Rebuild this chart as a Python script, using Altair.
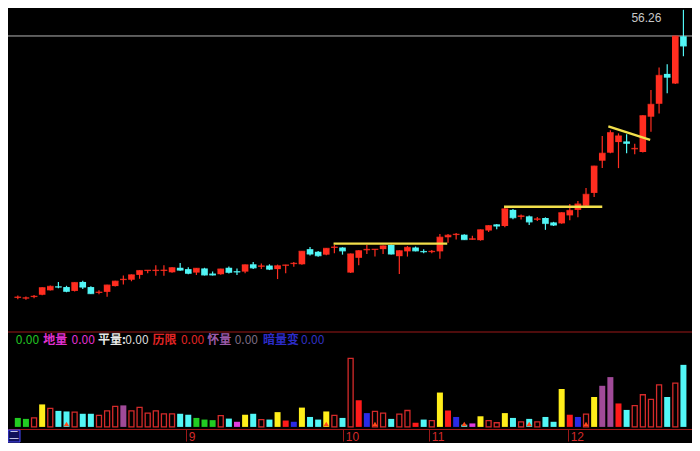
import altair as alt
import pandas as pd

# ---------------- data ----------------
days = list(range(83))
opens = [26.41, 26.35, 26.49, 26.72, 27.18, 27.57, 27.52, 27.12, 28.05, 27.52,
         26.92, 27.02, 27.62, 28.25, 28.28, 28.78, 29.19, 29.19, 29.20, 29.05,
         29.52, 29.38, 29.02, 29.45, 28.92, 28.85, 29.52, 29.15, 29.12, 29.88,
         29.65, 29.75, 29.38, 29.75, 29.92, 29.88, 31.45, 31.18, 30.88, 31.59,
         31.62, 29.02, 30.55, 31.35, 31.38, 31.45, 31.88, 30.72, 31.22, 31.62,
         31.25, 31.15, 31.22, 32.68, 32.92, 32.95, 32.44, 32.38, 33.38, 34.02,
         33.85, 35.52, 34.82, 34.85, 34.52, 34.68, 34.22, 34.12, 34.95, 35.52,
         35.95, 37.28, 40.62, 41.45, 42.55, 42.62, 41.82, 41.52, 45.18, 46.52,
         49.62, 48.62, 53.52]
closes = [26.47, 26.40, 26.55, 27.45, 27.58, 27.52, 27.08, 27.98, 27.52, 26.85,
          26.98, 27.72, 28.12, 28.31, 28.78, 29.22, 29.25, 29.25, 29.26, 29.52,
          29.28, 28.95, 29.45, 28.78, 28.78, 29.38, 29.05, 29.09, 29.82, 29.52,
          29.71, 29.38, 29.72, 29.80, 29.97, 31.22, 30.95, 30.78, 31.52, 31.65,
          31.28, 30.95, 31.28, 31.41, 31.43, 31.78, 30.95, 31.28, 31.62, 31.28,
          31.19, 31.21, 32.68, 32.88, 32.98, 32.45, 32.52, 33.45, 33.88, 33.85,
          35.62, 34.72, 34.88, 34.28, 34.58, 34.12, 33.95, 35.22, 35.45, 36.12,
          37.12, 40.05, 41.38, 43.52, 43.18, 42.42, 41.88, 45.28, 46.45, 49.45,
          49.28, 53.52, 52.52]
highs = [26.65, 26.55, 26.70, 27.50, 27.68, 28.05, 27.65, 28.03, 28.18, 27.60,
         27.18, 27.77, 28.17, 28.72, 28.83, 29.27, 29.28, 29.78, 29.78, 29.57,
         30.02, 29.58, 29.50, 29.52, 29.12, 29.43, 29.65, 29.45, 29.87, 30.12,
         29.95, 29.88, 29.85, 29.82, 30.12, 31.27, 31.68, 31.25, 31.57, 31.88,
         31.65, 31.00, 31.33, 31.88, 31.45, 31.83, 31.93, 31.33, 31.78, 31.72,
         31.45, 31.35, 33.02, 33.02, 33.12, 33.00, 32.85, 33.50, 33.93, 34.05,
         35.88, 35.62, 35.05, 34.95, 34.78, 34.75, 34.28, 35.27, 36.12, 36.45,
         37.78, 40.10, 43.18, 43.78, 43.45, 43.35, 42.38, 45.33, 47.95, 50.28,
         50.62, 53.57, 56.26]
lows = [26.25, 26.20, 26.35, 26.67, 27.15, 27.40, 26.98, 27.07, 27.32, 26.80,
        26.78, 26.52, 27.57, 27.78, 28.12, 28.38, 28.95, 28.68, 28.68, 29.00,
        29.22, 28.85, 28.78, 28.72, 28.72, 28.80, 28.92, 28.78, 28.95, 29.38,
        29.38, 29.28, 28.35, 28.95, 29.62, 29.83, 30.78, 30.65, 30.83, 31.02,
        30.88, 28.97, 29.78, 30.95, 30.68, 30.95, 30.90, 28.88, 30.68, 31.22,
        31.02, 31.02, 30.45, 32.12, 32.45, 32.40, 32.42, 32.33, 33.22, 33.52,
        33.72, 34.55, 34.52, 33.95, 34.38, 33.45, 33.85, 34.07, 34.45, 34.75,
        35.85, 36.85, 39.85, 41.40, 39.85, 41.38, 41.28, 41.47, 43.62, 45.52,
        47.62, 48.57, 51.45]
volumes = [0.93, 0.83, 0.93, 2.33, 1.93, 1.66, 1.60, 1.53, 1.36, 1.36,
           1.20, 1.66, 2.13, 2.23, 1.66, 2.03, 1.43, 1.66, 1.36, 1.36,
           1.36, 1.26, 0.93, 0.76, 0.70, 1.16, 0.86, 0.53, 1.26, 1.36,
           0.76, 0.76, 1.53, 0.66, 0.53, 2.00, 1.03, 0.76, 1.60, 1.20,
           0.93, 7.10, 2.76, 1.43, 1.60, 1.43, 0.83, 1.33, 1.70, 0.43,
           0.76, 0.66, 3.56, 1.70, 1.03, 0.23, 0.36, 1.10, 0.66, 0.43,
           1.43, 0.93, 0.53, 0.83, 0.53, 1.03, 0.53, 3.93, 1.26, 1.03,
           1.33, 3.10, 4.26, 5.16, 2.43, 1.76, 2.20, 3.33, 2.86, 4.36,
           3.10, 4.53, 6.43]
vol_kinds = ["green", "green", "hollow", "yellow", "hollow", "cyan", "cyan", "hollow", "cyan", "cyan",
             "hollow", "hollow", "hollow", "purple", "hollow", "hollow", "hollow", "hollow", "hollow", "hollow",
             "cyan", "cyan", "green", "green", "green", "hollow", "cyan", "magenta", "yellow", "cyan",
             "hollow", "cyan", "yellow", "red", "blue", "yellow", "cyan", "cyan", "yellow", "hollow",
             "cyan", "hollow", "red", "blue", "hollow", "hollow", "cyan", "hollow", "hollow", "red",
             "cyan", "hollow", "yellow", "red", "blue", "cyan", "magenta", "yellow", "hollow", "hollow",
             "yellow", "cyan", "hollow", "cyan", "hollow", "cyan", "cyan", "yellow", "red", "blue",
             "hollow", "yellow", "purple", "purple", "red", "cyan", "hollow", "hollow", "hollow", "hollow",
             "cyan", "hollow", "cyan"]
marker_days = [6, 38, 44, 55, 63, 70]

month_ticks = [20.75, 40.1, 50.7, 67.8]
month_labels = ["9", "10", "11", "12"]

line_start_day = [38.9, 59.9, 72.75]
line_end_day = [52.9, 72.0, 77.9]
line_start_price = [32.02, 35.85, 44.18]
line_end_price = [32.02, 35.85, 42.78]
guide_price = [53.55]

legend_texts = ["0.00", "地量", "0.00", "平量:", "0.00", "历限", "0.00", "怀量", "0.00", "暗量变", "0.00"]
legend_colors = ["#22c022", "#e030d0", "#e030d0", "#e8e8e8", "#d8d8d8", "#e02424", "#e02424",
                 "#9a5aa8", "#7a6a80", "#2c2cc8", "#3030c0"]
legend_x = [8, 36, 65, 92, 120, 148, 177, 204, 232, 261, 300]

# ---------------- tables ----------------
df = pd.DataFrame({"day": days, "open": opens, "close": closes, "high": highs,
                   "low": lows, "volume": volumes, "kind": vol_kinds})
df["dir"] = ["up" if c >= o else "down" for o, c in zip(opens, closes)]
levels = pd.DataFrame({"xa": line_start_day, "xb": line_end_day,
                       "ya": line_start_price, "yb": line_end_price})
marks_df = pd.DataFrame({"day": marker_days})
top_df = df[df["high"] == df["high"].max()]

RED = "#ff2d20"
CYAN = "#52f6f6"
DARKRED = "#9c1818"
W, H = 684, 421

x_scale = alt.Scale(domain=[-0.593, 82.44], nice=False, zero=False)
label_expr = "".join(f"abs(datum.value - {v}) < 0.01 ? '{t}' : " for v, t in zip(month_ticks, month_labels)) + "''"
x_axis = alt.Axis(values=month_ticks, labelExpr=label_expr, title=None, grid=False,
                  domainColor=DARKRED, domainWidth=1.2, tickColor=DARKRED, tickSize=12,
                  tickWidth=1, labelColor="#d42a2a", labelAlign="left", labelOffset=2,
                  labelPadding=-10, labelFontSize=12, labelFont="Liberation Sans",
                  labelOverlap=False, labelBaseline="top")
X = alt.X("day:Q", scale=x_scale, axis=x_axis)

price_scale = alt.Scale(domain=[22.85, 56.45], range=[324.1, 0], nice=False, zero=False)
vol_scale = alt.Scale(domain=[0, 10], range=[418.9, 322.4], nice=False, zero=False)
dir_color = alt.Color("dir:N", scale=alt.Scale(domain=["up", "down"], range=[RED, CYAN]), legend=None)

base = alt.Chart(df)

wicks = base.mark_rule(strokeWidth=1.2).encode(
    x=X, y=alt.Y("low:Q", scale=price_scale, axis=None), y2="high:Q", color=dir_color)
bodies = base.mark_bar(size=6.6).encode(
    x=X, y=alt.Y("open:Q", scale=price_scale, axis=None), y2="close:Q", color=dir_color)
flats = base.mark_tick(orient="horizontal", size=6.6, thickness=1.4).encode(
    x=X, y=alt.Y("close:Q", scale=price_scale, axis=None), color=dir_color)

guide = alt.Chart(pd.DataFrame({"p": guide_price})).mark_rule(color="#b4b4b4", strokeWidth=1).encode(
    y=alt.Y("p:Q", scale=price_scale, axis=None))

level_lines = alt.Chart(levels).mark_rule(strokeWidth=2.4, color="#f2df4b").encode(
    x=alt.X("xa:Q", scale=x_scale, axis=x_axis), x2="xb:Q",
    y=alt.Y("ya:Q", scale=price_scale, axis=None), y2="yb:Q")

top_label = alt.Chart(top_df).mark_text(align="right", baseline="middle", dx=-22, dy=8,
                                        fontSize=12, color="#c8c8c8", font="Liberation Sans").encode(
    x=X, y=alt.Y("high:Q", scale=price_scale, axis=None), text=alt.Text("high:Q", format=".2f"))

kind_scale = alt.Scale(domain=["green", "yellow", "cyan", "purple", "magenta", "red", "blue"],
                       range=["#22cc22", "#ffee1a", "#52f6f6", "#a04a98", "#e03ce0", "#ff1a1a", "#2a2ae6"])
vol_filled = base.transform_filter("datum.kind != 'hollow'").mark_bar(size=6).encode(
    x=X, y=alt.Y("volume:Q", scale=vol_scale, axis=None),
    color=alt.Color("kind:N", scale=kind_scale, legend=None))
vol_hollow = base.transform_filter("datum.kind == 'hollow'").mark_bar(
    size=5, fill="#000000", stroke="#d42a2a", strokeWidth=1.3).encode(
    x=X, y=alt.Y("volume:Q", scale=vol_scale, axis=None))
vol_marks = alt.Chart(marks_df).mark_point(shape="triangle-up", filled=True, size=30,
                                           color="#ff4a1a", opacity=1).encode(
    x=X, y=alt.value(416))

one = pd.DataFrame({"a": [0]})
panel_line = alt.Chart(one).mark_rule(color=DARKRED, strokeWidth=1.2).encode(
    x=alt.value(0), x2=alt.value(W), y=alt.value(324))

legend_layers = []
for t, c, px in zip(legend_texts, legend_colors, legend_x):
    legend_layers.append(
        alt.Chart(pd.DataFrame({"t": [t]})).mark_text(
            align="left", baseline="middle", fontSize=12, color=c,
            font="Noto Sans CJK SC", fontWeight="bold" if not t.startswith("0") else "normal").encode(
            x=alt.value(px * 0.977), y=alt.value(331.5), text="t:N"))

corner_box = alt.Chart(one).mark_rect(fill="#10105a", stroke="#4848ff", strokeWidth=1).encode(
    x=alt.value(0), x2=alt.value(12), y=alt.value(422), y2=alt.value(434))
corner_text = alt.Chart(pd.DataFrame({"t": ["二"]})).mark_text(
    align="center", baseline="middle", fontSize=10, color="#e0e0ff", font="Noto Sans CJK SC").encode(
    x=alt.value(6), y=alt.value(428), text="t:N")

chart = alt.layer(
    guide, panel_line, wicks, bodies, flats, level_lines, top_label,
    vol_filled, vol_hollow, vol_marks, *legend_layers, corner_box, corner_text
).resolve_scale(y="independent", color="independent").properties(
    width=W, height=H,
    padding={"left": 0, "top": 0, "right": 0, "bottom": 14},
    autosize=alt.AutoSizeParams(type="none"),
    background="#000000"
).configure_view(stroke=None)

chart.save("out.html", embed_options={"renderer": "svg", "actions": False})
